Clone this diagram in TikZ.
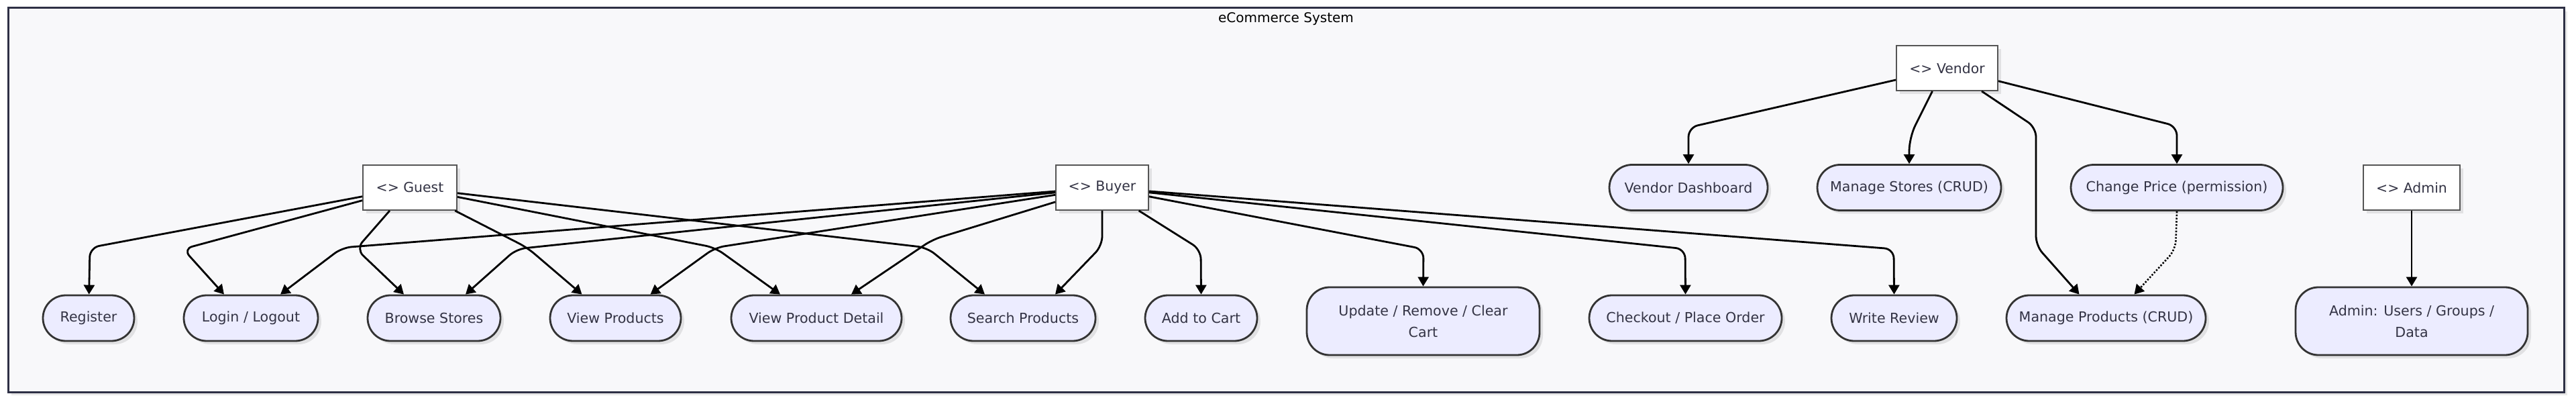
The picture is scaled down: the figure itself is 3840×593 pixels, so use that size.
\documentclass[tikz,border=0pt]{standalone}
\usepackage{fontspec}
\setmainfont{DejaVu Sans}
\usetikzlibrary{arrows.meta,shadows}
\definecolor{framebg}{HTML}{F8F8FA}
\definecolor{frameline}{HTML}{2E3045}
\definecolor{pillfill}{HTML}{ECECFF}
\definecolor{pillline}{HTML}{333333}
\definecolor{txt}{HTML}{333344}
\definecolor{actorline}{HTML}{555555}
\begin{document}
\begin{tikzpicture}[x=0.5pt,y=-0.5pt,
  shadowed/.style={drop shadow={shadow xshift=2.5pt,shadow yshift=-2.5pt,fill=black,opacity=0.09}},
  pill/.style={draw=pillline,line width=1.4pt,fill=pillfill,rounded corners=17pt,minimum height=34pt,inner sep=0pt,text=txt,font=\fontsize{10.3}{16}\selectfont,align=center,shadowed},
  tallpill/.style={pill,minimum height=50.5pt},
  actor/.style={draw=actorline,line width=0.9pt,fill=white,minimum height=33.5pt,inner sep=0pt,text=txt,font=\fontsize{10.2}{14}\selectfont,shadowed},
  link/.style={draw=black,line width=1.4pt,rounded corners=7pt,-{Triangle[length=7pt,width=8pt]}},
  weak/.style={link,line width=1.3pt,dash pattern=on 1.2pt off 1.2pt}
]
\path[use as bounding box,fill=white] (0,0) rectangle (3840,593);
\node[draw=frameline,line width=1.5pt,fill=framebg,minimum width=1905pt,minimum height=286pt,inner sep=0pt,shadowed] (frame) at (1917,298) {};
\node[font=\fontsize{10}{12}\selectfont,text=black] (title) at (1917,28) {eCommerce System};

% actors
\node[actor,minimum width=70pt] (guest) at (611,279.5) {<> Guest};
\node[actor,minimum width=69pt] (buyer) at (1643,279.5) {<> Buyer};
\node[actor,minimum width=75.5pt] (vendor) at (2902.5,101.5) {<> Vendor};
\node[actor,minimum width=72pt] (admin) at (3595,279.5) {<> Admin};

% middle use cases
\node[pill,minimum width=118pt] (dash) at (2517,279.5) {Vendor Dashboard};
\node[pill,minimum width=137pt] (stores) at (2846,279.5) {Manage Stores (CRUD)};
\node[pill,minimum width=158pt] (price) at (3245,279.5) {Change Price (permission)};

% bottom use cases
\node[pill,minimum width=68pt] (register) at (132,474) {Register};
\node[pill,minimum width=100pt] (login) at (374,474) {Login / Logout};
\node[pill,minimum width=99pt] (browse) at (647,474) {Browse Stores};
\node[pill,minimum width=97.5pt] (viewp) at (917.5,474) {View Products};
\node[pill,minimum width=127pt] (detail) at (1217,474) {View Product Detail};
\node[pill,minimum width=108pt] (search) at (1525,474) {Search Products};
\node[pill,minimum width=83.5pt] (addcart) at (1790.5,474) {Add to Cart};
\node[tallpill,minimum width=173.5pt] (update) at (2121.5,478.5) {Update / Remove / Clear\\Cart};
\node[pill,minimum width=143.5pt] (checkout) at (2512.5,474) {Checkout / Place Order};
\node[pill,minimum width=93.5pt] (review) at (2823.5,474) {Write Review};
\node[pill,minimum width=148.5pt] (mprod) at (3139.5,474) {Manage Products (CRUD)};
\node[tallpill,minimum width=173pt] (adminusers) at (3595,478.5) {Admin: Users / Groups /\\Data};

% guest
\draw[link] (guest) -- (134,369) -- (register);
\draw[link] (guest) -- (273,371) -- ([xshift=-20pt]login.north);
\draw[link] (guest) -- (531,371) -- ([xshift=-22.5pt]browse.north);
\draw[link] (guest) -- (786,369) -- ([xshift=-25pt]viewp.north);
\draw[link] (guest) -- (1066,369) -- ([xshift=-27pt]detail.north);
\draw[link] (guest) -- (1382,369) -- ([xshift=-28.5pt]search.north);

% buyer
\draw[link] (buyer) -- (510,369) -- ([xshift=22pt]login.north);
\draw[link] (buyer) -- (770,371) -- ([xshift=23.5pt]browse.north);
\draw[link] (buyer) -- (1066,369) -- ([xshift=26pt]viewp.north);
\draw[link] (buyer) -- (1390,357) -- ([xshift=26pt]detail.north);
\draw[link] (buyer.south) -- (1643,366) -- ([xshift=24pt]search.north);
\draw[link] (buyer) -- (1790,372) -- (addcart.north);
\draw[link] (buyer) -- (2122,371) -- (update.north);
\draw[link] (buyer) -- (2512,371) -- (checkout.north);
\draw[link] (buyer) -- (2823,371) -- (review.north);

% vendor
\draw[link] (vendor) -- (2517,190) -- (dash.north);
\draw[link,rounded corners=10pt] ([xshift=-11pt]vendor.south) -- (2846,205) -- (stores.north);
\draw[link] (vendor) -- (3035,190) -- (3035,366) -- ([xshift=-20pt]mprod.north);
\draw[link] (vendor) -- (3245,188) -- (price.north);
\draw[weak] (price.south) -- (3243,372) -- ([xshift=21pt]mprod.north);

% admin
\draw[link] (admin) -- (adminusers);
\end{tikzpicture}
\end{document}
